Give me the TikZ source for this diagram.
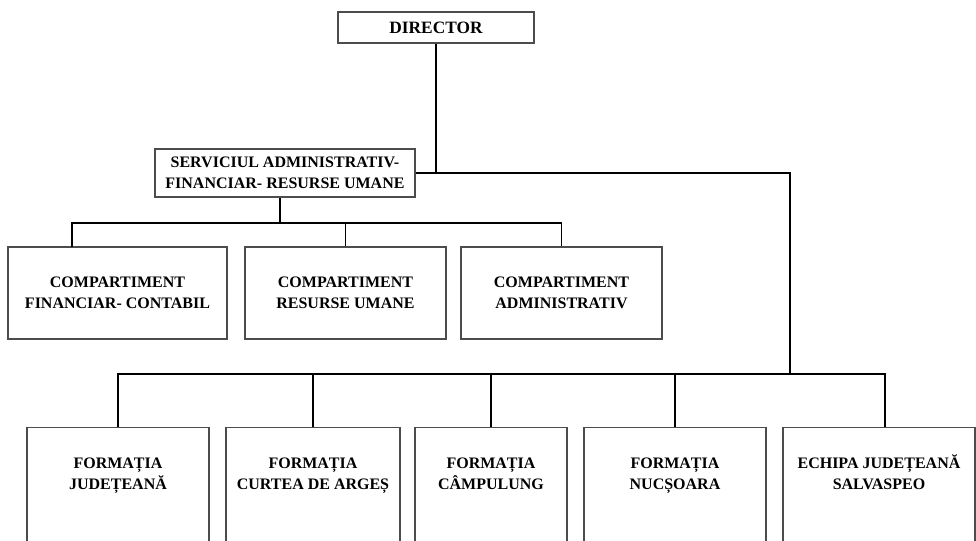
\documentclass[tikz,border=0pt]{standalone}
\usepackage{fontspec}
\setmainfont{Liberation Serif}
\usetikzlibrary{positioning}

\tikzset{
  box/.style={draw=black!70, line width=0.8pt, align=center, inner sep=0pt,
    font=\bfseries\fontsize{12}{15.5}\selectfont},
  formbox/.style={box, anchor=north, minimum height=105pt},
  formtext/.style={anchor=north, inner sep=0pt, align=center, text height=8pt,
    font=\bfseries\fontsize{12}{15.5}\selectfont, yshift=-38.5pt},
  wire/.style={draw=black, line width=0.8pt}
}

\begin{document}
\begin{tikzpicture}[x=0.75pt,y=-0.75pt]
\useasboundingbox (0,0) rectangle (976,540);
\clip (0,0) rectangle (976,540);

\node[box, minimum width=147pt, minimum height=23.25pt, font=\bfseries\fontsize{13}{15.5}\selectfont] (dir) at (436,27.5) {DIRECTOR};
\node[box, minimum width=195pt, minimum height=36pt] (serv) at (285,173) {SERVICIUL ADMINISTRATIV-\\FINANCIAR- RESURSE UMANE};

% compartimente
\node[box, minimum width=164.25pt, minimum height=69pt] (c1) at (117.5,293) {COMPARTIMENT\\FINANCIAR- CONTABIL};
\node[box, minimum width=150.75pt, minimum height=69pt] (c2) at (345.5,293) {COMPARTIMENT\\RESURSE UMANE};
\node[box, minimum width=150.75pt, minimum height=69pt] (c3) at (561.5,293) {COMPARTIMENT\\ADMINISTRATIV};

% formatii
\node[formbox, minimum width=136.5pt, label={[formtext]north:{FORMAȚIA\\JUDEȚEANĂ}}] (f1) at (118,427) {};
\node[formbox, minimum width=130.5pt, label={[formtext]north:{FORMAȚIA\\CURTEA DE ARGEȘ}}] (f2) at (313,427) {};
\node[formbox, minimum width=114pt, label={[formtext]north:{FORMAȚIA\\CÂMPULUNG}}] (f3) at (491,427) {};
\node[formbox, minimum width=136.5pt, label={[formtext]north:{FORMAȚIA\\NUCȘOARA}}] (f4) at (675,427) {};
\node[formbox, minimum width=144pt, label={[formtext]north:{ECHIPA JUDEȚEANĂ\\SALVASPEO}}] (f5) at (879,427) {};

\coordinate (hub) at (790,173);
\coordinate (busF) at (790,374);
\coordinate (busC) at (280,223);
\coordinate (c1top) at (72,247);
\coordinate (f5top) at (885,427);

\draw[wire] (dir.south) -- (dir.south |- hub);
\draw[wire] (serv.east) -- (hub) -- (busF);
\draw[wire] (f1.north) |- (f5top |- busF) -- (f5top);
\foreach \n in {f2,f3,f4}
  \draw[wire] (\n.north) -- (\n.north |- busF);

\draw[wire] ([xshift=-3.75pt]serv.south) -- (busC);
\draw[wire] (c1top) |- (c3.north |- busC) -- (c3.north);
\draw[wire] (c2.north) -- (c2.north |- busC);
\end{tikzpicture}
\end{document}
